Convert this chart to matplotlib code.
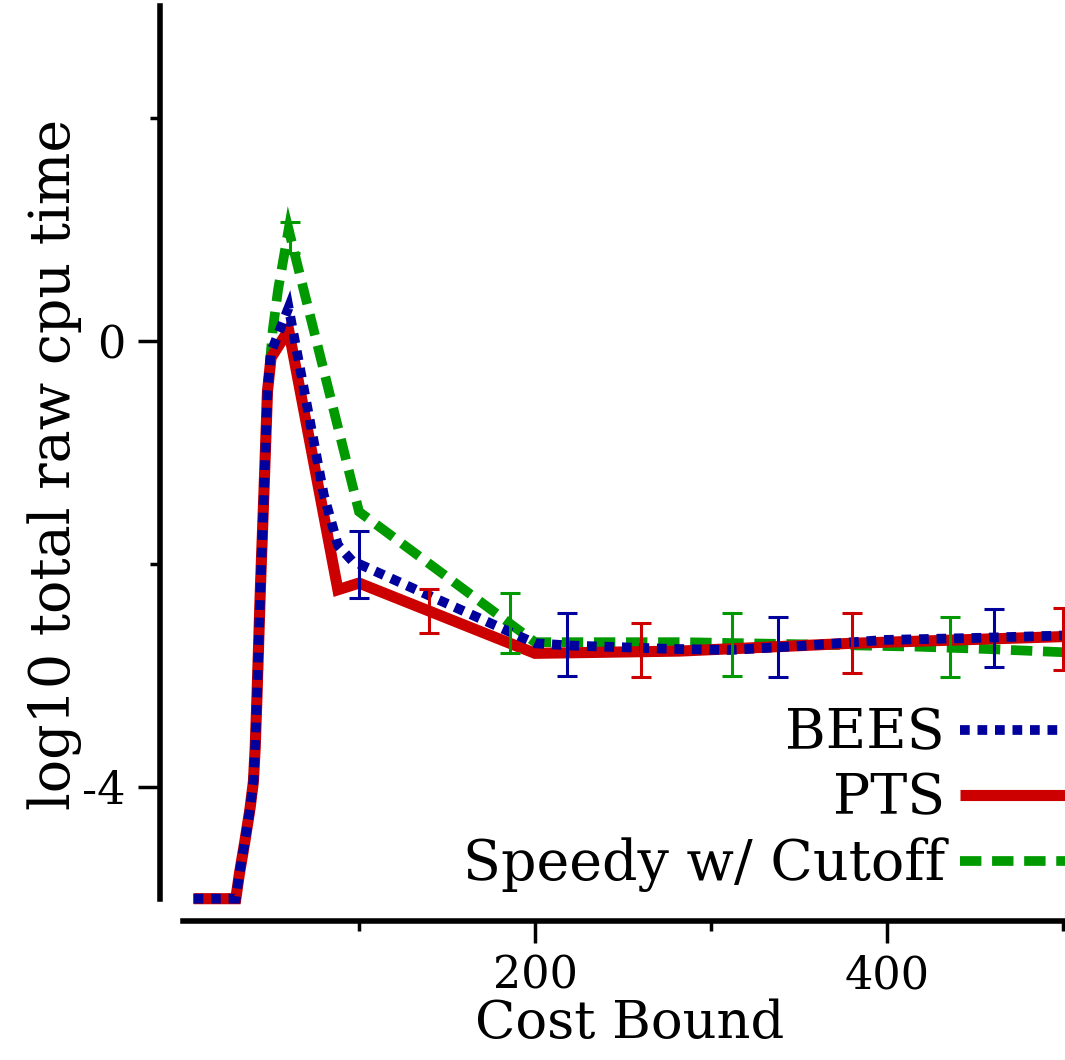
import matplotlib.pyplot as plt
from matplotlib.ticker import FixedLocator

# cost bound / log10 cpu time
bees_x = [6, 30, 32, 35, 38, 40, 41, 42, 44, 46, 48, 50, 60, 80, 88, 96, 200, 220, 277, 311, 355, 398, 455, 500]
bees_y = [-5, -5, -4.78, -4.5, -4.2, -3.95, -3.65, -3.2, -2.2, -1.35, -0.45, -0.1, 0.3, -1.38, -1.83, -1.97,
          -2.71, -2.73, -2.76, -2.77, -2.73, -2.68, -2.66, -2.64]

pts_x = [6, 30, 32, 35, 38, 40, 41, 42, 44, 46, 48, 50, 60, 88, 100, 200, 282, 380, 440, 500]
pts_y = [-5, -5, -4.78, -4.5, -4.2, -3.95, -3.65, -3.2, -2.2, -1.35, -0.45, -0.15, 0.1, -2.23, -2.17,
         -2.8, -2.78, -2.71, -2.68, -2.65]

speedy_x = [6, 30, 32, 35, 38, 40, 41, 42, 44, 46, 48, 51, 54, 60, 100, 200, 284, 355, 417, 455, 500]
speedy_y = [-5, -5, -4.78, -4.5, -4.2, -3.95, -3.65, -3.2, -2.2, -1.35, -0.45, 0.1, 0.46, 1.0, -1.53,
            -2.7, -2.7, -2.72, -2.74, -2.76, -2.79]

# error bars (position, centre, half width)
bees_ex = [100, 218, 338, 461]
bees_ey = [-2.0, -2.72, -2.74, -2.66]
bees_ee = [0.3, 0.28, 0.27, 0.26]

pts_ex = [140, 260, 380, 500]
pts_ey = [-2.42, -2.77, -2.71, -2.67]
pts_ee = [0.2, 0.24, 0.27, 0.28]

speedy_ex = [61, 186, 312, 436]
speedy_ey = [0.93, -2.53, -2.72, -2.74]
speedy_ee = [0.14, 0.27, 0.28, 0.27]

blue = '#00009c'
red = '#cc0000'
green = '#009a00'

plt.rcParams['font.family'] = ['DejaVu Serif']

fig = plt.figure(figsize=(10.65, 10.6), dpi=100)
ax = fig.add_axes([160 / 1065, 139 / 1060, 905 / 1065, 921 / 1060])

lg, = ax.plot(speedy_x, speedy_y, color=green, linewidth=7, linestyle=(0, (2.2, 1.1)),
              dash_joinstyle='miter', label='Speedy w/ Cutoff')
lr, = ax.plot(pts_x, pts_y, color=red, linewidth=8, solid_joinstyle='miter',
              solid_capstyle='butt', label='PTS')
lb, = ax.plot(bees_x, bees_y, color=blue, linewidth=7, linestyle=(0, (1, 0.8)),
              dash_joinstyle='miter', label='BEES')

for ex, ey, ee, c in [(speedy_ex, speedy_ey, speedy_ee, green),
                      (pts_ex, pts_ey, pts_ee, red),
                      (bees_ex, bees_ey, bees_ee, blue)]:
    ax.errorbar(ex, ey, yerr=ee, fmt='none', ecolor=c, elinewidth=2.2,
                capsize=7, capthick=2.2, zorder=4, clip_on=False)

ax.set_xlim(-13.07, 501.1)
ax.set_ylim(-5.2, 3.058)

for side in ['top', 'right']:
    ax.spines[side].set_visible(False)
ax.spines['left'].set_bounds(-5, 3)
ax.spines['bottom'].set_bounds(0, 500)
ax.spines['left'].set_linewidth(4)
ax.spines['bottom'].set_linewidth(4)

ax.xaxis.set_major_locator(FixedLocator([200, 400]))
ax.xaxis.set_minor_locator(FixedLocator([100, 300, 500]))
ax.yaxis.set_major_locator(FixedLocator([0, -4]))
ax.yaxis.set_minor_locator(FixedLocator([2, -2]))
ax.set_xticklabels(['200', '400'])
ax.set_yticklabels(['0', '-4'])
ax.tick_params(which='major', direction='out', length=16, width=2.5, labelsize=32)
ax.tick_params(which='minor', direction='out', length=7, width=2.5)
ax.tick_params(axis='x', which='major', pad=8)
ax.tick_params(axis='y', which='major', pad=9)

ax.set_xlabel('Cost Bound', fontsize=38)
ax.set_ylabel('log10 total raw cpu time', fontsize=40)
ax.xaxis.set_label_coords(0.519, -0.084)
ax.yaxis.set_label_coords(-0.086, 0.496)

ax.legend(handles=[lb, lr, lg], loc='lower right', bbox_to_anchor=(1.0, 168 / 1060),
          bbox_transform=fig.transFigure, frameon=False, markerfirst=False,
          fontsize=40, handlelength=1.89, handletextpad=0.27, labelspacing=0.19,
          borderpad=0, borderaxespad=0)

fig.savefig('out.png', dpi=100)
